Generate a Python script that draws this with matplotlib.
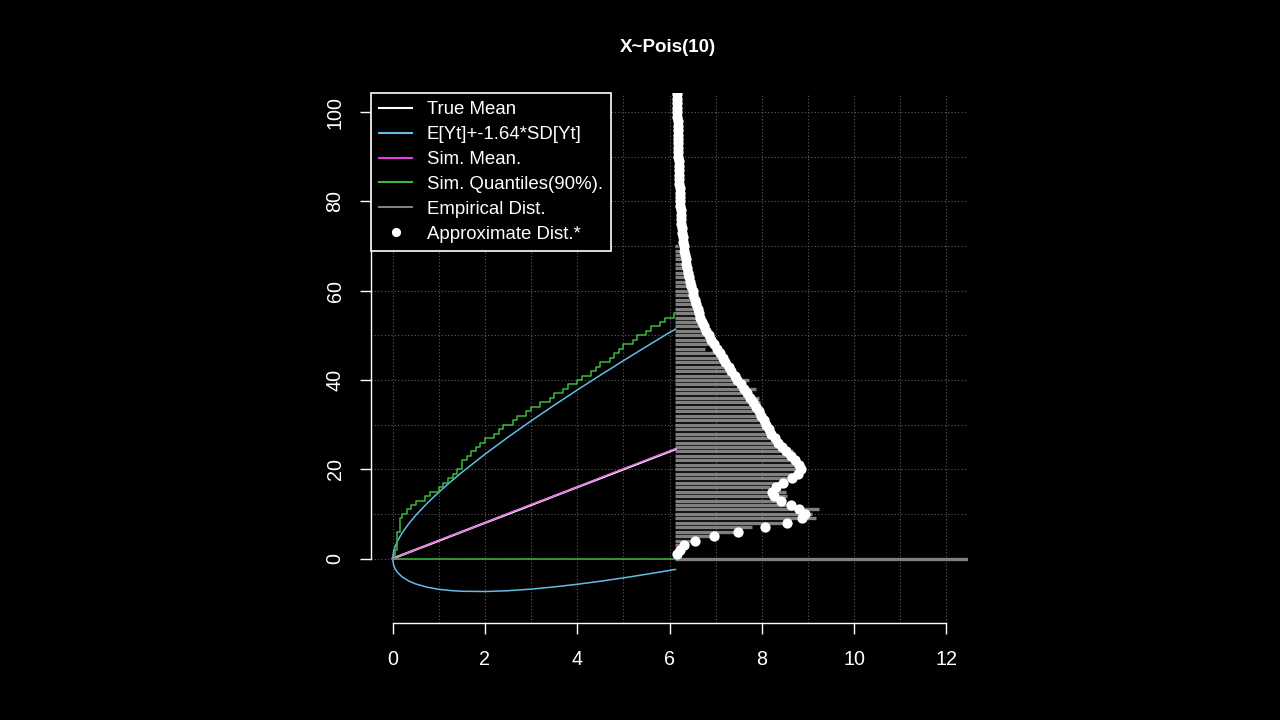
import matplotlib
matplotlib.use("Agg")
import matplotlib.pyplot as plt
from matplotlib.lines import Line2D

plt.rcParams["font.family"] = ["Liberation Sans", "DejaVu Sans"]

# ---- data ----
T_END = 6.13

# true mean and simulated mean of Y_t
T_MEAN = [0, T_END]
TRUE_MEAN = [0, 24.5]
T_SIM = [0, 0.5, 1.0, 1.5, 2.0, 2.5, 3.0, 3.5, 4.0, 4.5, 5.0, 5.5, 6.13]
SIM_MEAN = [0, 2.0, 4.1, 6.0, 8.0, 10.1, 12.1, 14.0, 16.0, 18.1, 20.1, 22.1, 24.6]

# E[Yt] +- 1.64*SD[Yt]
T_BAND = [0, 0.02, 0.05, 0.1, 0.2, 0.35, 0.5, 0.75, 1.0, 1.25, 1.5, 2.0, 2.5,
          3.0, 3.5, 4.0, 4.5, 5.0, 5.5, 6.0, 6.13]
BAND_HI = [0, 1.62, 2.63, 3.84, 5.67, 7.84, 9.69, 12.42, 14.88, 17.16, 19.32,
           23.38, 27.2, 30.84, 34.35, 37.76, 41.08, 44.33, 47.51, 50.65, 51.4]
BAND_LO = [0, -1.46, -2.23, -3.04, -4.07, -5.04, -5.69, -6.42, -6.88, -7.16,
           -7.32, -7.38, -7.2, -6.84, -6.35, -5.76, -5.08, -4.33, -3.51, -2.65, -2.43]

# simulated 90% quantiles
T_Q = [0, 0.05, 0.1, 0.15, 0.2, 0.3, 0.4, 0.5, 0.6, 0.7, 0.8, 0.9, 1.0, 1.1, 1.2,
       1.3, 1.4, 1.5, 1.6, 1.7, 1.8, 1.9, 2.0, 2.1, 2.2, 2.3, 2.4, 2.5, 2.6, 2.7,
       2.8, 2.9, 3.0, 3.1, 3.2, 3.3, 3.4, 3.5, 3.6, 3.7, 3.8, 3.9, 4.0, 4.1, 4.2,
       4.3, 4.4, 4.5, 4.6, 4.7, 4.8, 4.9, 5.0, 5.1, 5.2, 5.3, 5.4, 5.5, 5.6, 5.7,
       5.8, 5.9, 6.0, 6.1, 6.13]
Q_HI = [0, 2, 6, 9, 10, 11, 12, 13, 13, 14, 15, 15, 16, 17, 18,
        19, 20, 22, 23, 24, 25, 26, 27, 27, 28, 29, 30, 30, 31, 32,
        32, 33, 34, 34, 35, 35, 36, 37, 37, 38, 39, 39, 40, 41, 41,
        42, 43, 44, 44, 45, 46, 47, 48, 48, 49, 50, 50, 51, 52, 52,
        53, 54, 54, 55, 55]
T_QLO = [0, T_END]
Q_LO = [0, 0]

# empirical distribution of Y at the end (probabilities, k = 0..70)
EMP_K = list(range(0, 71))
EMP_P = [0.088, 0.0, 0.0005, 0.0017, 0.0039, 0.0082, 0.0145, 0.0166, 0.0233, 0.0305,
         0.0295, 0.0310, 0.0253, 0.0228, 0.0242, 0.0240, 0.0205, 0.0230, 0.0255, 0.0260,
         0.0280, 0.0262, 0.0260, 0.0245, 0.0255, 0.0225, 0.0215, 0.0210, 0.0205, 0.0195,
         0.0195, 0.0185, 0.0180, 0.0178, 0.0170, 0.0184, 0.0180, 0.0162, 0.0174, 0.0145,
         0.0159, 0.0125, 0.0120, 0.0112, 0.0105, 0.0100, 0.0092, 0.0065, 0.0080, 0.0072,
         0.0070, 0.0062, 0.0054, 0.0052, 0.0048, 0.0044, 0.0040, 0.0038, 0.0035, 0.0032,
         0.0029, 0.0027, 0.0025, 0.0023, 0.0021, 0.0019, 0.0015, 0.0012, 0.0010, 0.0008,
         0.0006]

# approximate distribution (k = 1..105)
APX_K = list(range(1, 106))
APX_P = [0.0004, 0.0010, 0.0018, 0.0043, 0.0083, 0.0136, 0.0194, 0.0242, 0.0274, 0.0280,
         0.0268, 0.0250, 0.0228, 0.0214, 0.0210, 0.0218, 0.0233, 0.0252, 0.0265, 0.0271,
         0.0268, 0.0260, 0.0250, 0.0240, 0.0230, 0.0222, 0.0215, 0.0208, 0.0203, 0.0197,
         0.0192, 0.0186, 0.0180, 0.0174, 0.0168, 0.0162, 0.0155, 0.0148, 0.0141, 0.0134,
         0.0128, 0.0121, 0.0115, 0.0108, 0.0102, 0.0096, 0.0090, 0.0084, 0.0078, 0.0073,
         0.0067, 0.0062, 0.0058, 0.0054, 0.0051, 0.0048, 0.0045, 0.0042, 0.0039, 0.0037,
         0.0034, 0.0031, 0.0029, 0.0027, 0.0025, 0.0023, 0.0022, 0.0020, 0.0019, 0.0018,
         0.0017, 0.0016, 0.0015, 0.0014, 0.0013, 0.0012, 0.00115, 0.0011, 0.00105, 0.0010,
         0.00095, 0.0009, 0.00087, 0.00083, 0.0008, 0.00077, 0.00073, 0.0007, 0.00067, 0.00064,
         0.00061, 0.00058, 0.00056, 0.00053, 0.00051, 0.00049, 0.00047, 0.00045, 0.00043, 0.00041,
         0.00039, 0.00037, 0.00036, 0.00034, 0.00033]

X_TICKS = [0, 2, 4, 6, 8, 10, 12]
Y_TICKS = [0, 20, 40, 60, 80, 100]
LEGEND_LABELS = ["True Mean", "E[Yt]+-1.64*SD[Yt]", "Sim. Mean.",
                 "Sim. Quantiles(90%).", "Empirical Dist.", "Approximate Dist.*"]

# ---- style ----
SCALE = 100          # x-units per unit probability for the side distributions
C_BLUE, C_MAG, C_GREEN, C_GRAY = "#62BDE2", "#E23CE2", "#3DB83D", "#808080"
FS_TICK, FS_TITLE, FS_LEG = 14.2, 13.5, 13.4

fig = plt.figure(figsize=(12.8, 7.2), dpi=100, facecolor="black")
ax = fig.add_axes([371 / 1280, 1 - 623.3 / 720, (968 - 371) / 1280, (623.3 - 93) / 720])
ax.set_facecolor("black")
ax.set_xlim(-0.47, 12.47)
ax.set_ylim(-14.5, 104.3)

# dotted grid
for gx in range(0, 13):
    ax.axvline(gx, color="#5e5e5e", lw=0.8, ls=(0, (1, 2)), zorder=0)
for gy in range(0, 101, 10):
    ax.axhline(gy, color="#5e5e5e", lw=0.8, ls=(0, (1, 2)), zorder=0)

# empirical distribution as horizontal bars
ax.hlines(EMP_K, T_END, [T_END + p * SCALE for p in EMP_P], color=C_GRAY, lw=2.4, zorder=2)

ax.plot(T_MEAN, TRUE_MEAN, color="white", lw=1.6, zorder=3)
ax.plot(T_SIM, SIM_MEAN, color=C_MAG, lw=1.1, alpha=0.75, zorder=4)
ax.plot(T_BAND, BAND_HI, color=C_BLUE, lw=1.1, zorder=3)
ax.plot(T_BAND, BAND_LO, color=C_BLUE, lw=1.1, zorder=3)
ax.plot(T_Q, Q_HI, color=C_GREEN, lw=1.1, drawstyle="steps-post", zorder=3)
ax.plot(T_QLO, Q_LO, color=C_GREEN, lw=1.1, zorder=3)

ax.plot([T_END + p * SCALE for p in APX_P], APX_K, "o", color="white", ms=7.4,
        mec="none", zorder=5)

# axes like R's axis()
for s in ["top", "right"]:
    ax.spines[s].set_visible(False)
for s in ["left", "bottom"]:
    ax.spines[s].set_color("white")
    ax.spines[s].set_linewidth(1.0)
ax.spines["left"].set_bounds(0, 100)
ax.spines["bottom"].set_bounds(0, 12)
ax.set_xticks(X_TICKS)
ax.set_yticks(Y_TICKS)
ax.tick_params(colors="white", labelcolor="white", length=8, width=1.0,
               labelsize=FS_TICK, pad=11)
ax.tick_params(axis="y", labelrotation=90)
for lab in ax.get_yticklabels():
    lab.set_va("center")

fig.text(668 / 1280, 1 - 47 / 720, "X~Pois(10)", color="white", fontsize=FS_TITLE,
         fontweight="bold", ha="center", va="center")

handles = [Line2D([], [], color="white", lw=1.5),
           Line2D([], [], color=C_BLUE, lw=1.5),
           Line2D([], [], color=C_MAG, lw=1.5),
           Line2D([], [], color=C_GREEN, lw=1.5),
           Line2D([], [], color=C_GRAY, lw=1.5),
           Line2D([], [], ls="none", marker="o", color="white", ms=6.6, mec="none")]
leg = ax.legend(handles, LEGEND_LABELS, loc="upper left", bbox_to_anchor=(0, 1),
                borderaxespad=0, fontsize=FS_LEG, labelcolor="white", facecolor="black",
                edgecolor="white", framealpha=1, fancybox=False, handlelength=1.75,
                handletextpad=0.8, borderpad=0.45, labelspacing=0.42)
leg.get_frame().set_linewidth(1.2)
leg.set_zorder(10)

fig.savefig("out.png", dpi=100, facecolor="black")
